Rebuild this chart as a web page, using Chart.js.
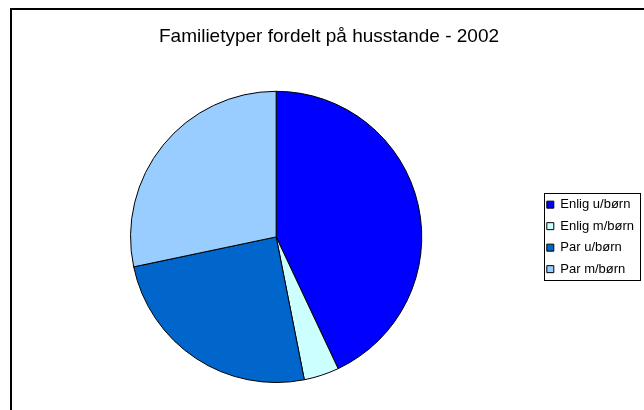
<!DOCTYPE html>
<html>
<head>
<meta charset="utf-8">
<script src="https://cdn.jsdelivr.net/npm/chart.js@4"></script>
<style>
  html, body { margin: 0; padding: 0; background: #fff; }
  canvas { display: block; }
</style>
</head>
<body>
<canvas id="pie" width="644" height="410"></canvas>
<script>
// Familietyper fordelt på husstande - 2002 (andele i %)
const categories = ["Enlig u/børn", "Enlig m/børn", "Par u/børn", "Par m/børn"];
const shares = [43.0, 3.9, 24.8, 28.3];
const sliceColors = ["#0000FF", "#CCFFFF", "#0066CC", "#99CCFF"];

// white frame with the dark border (cropped at right/bottom like the original)
const framePlugin = {
  id: "frame",
  beforeDraw(chart) {
    const ctx = chart.ctx;
    ctx.save();
    ctx.fillStyle = "#fff";
    ctx.fillRect(0, 0, chart.width, chart.height);
    ctx.strokeStyle = "#000";
    ctx.lineWidth = 2;
    ctx.strokeRect(11, 9, chart.width + 20, chart.height + 20);
    ctx.restore();
  },
};

// box around the legend items
const legendBoxPlugin = {
  id: "legendBox",
  afterDraw(chart) {
    const lg = chart.legend;
    if (!lg || !lg.legendHitBoxes || !lg.legendHitBoxes.length) return;
    const boxes = lg.legendHitBoxes;
    let top = Infinity, bottom = -Infinity;
    boxes.forEach((b) => {
      top = Math.min(top, b.top);
      bottom = Math.max(bottom, b.top + b.height);
    });
    const left = Math.round(lg.left + 6) + 0.5;
    const right = Math.round(lg.right - 3) - 0.5;
    const y0 = Math.round(top - 5) + 0.5;
    const y1 = Math.round(bottom + 4) + 0.5;
    const ctx = chart.ctx;
    ctx.save();
    ctx.strokeStyle = "#000";
    ctx.lineWidth = 1;
    ctx.strokeRect(left, y0, right - left, y1 - y0);
    ctx.restore();
  },
};

const font = "'Liberation Sans', Arial, sans-serif";

new Chart(document.getElementById("pie"), {
  type: "pie",
  data: {
    labels: categories,
    datasets: [
      {
        data: shares,
        backgroundColor: sliceColors,
        borderColor: "#000",
        borderWidth: 1,
      },
    ],
  },
  options: {
    responsive: false,
    animation: false,
    layout: { padding: { top: 25, left: 14, right: 0, bottom: 27 } },
    plugins: {
      title: {
        display: true,
        text: "Familietyper fordelt på husstande - 2002",
        color: "#000",
        font: { family: font, size: 19, weight: "normal" },
        padding: { top: 0, bottom: 43 },
      },
      legend: {
        position: "right",
        fullSize: false,
        labels: {
          color: "#000",
          boxWidth: 7,
          boxHeight: 7,
          padding: 8.5,
          font: { family: font, size: 13 },
        },
      },
      tooltip: { enabled: false },
    },
  },
  plugins: [framePlugin, legendBoxPlugin],
});
</script>
</body>
</html>
